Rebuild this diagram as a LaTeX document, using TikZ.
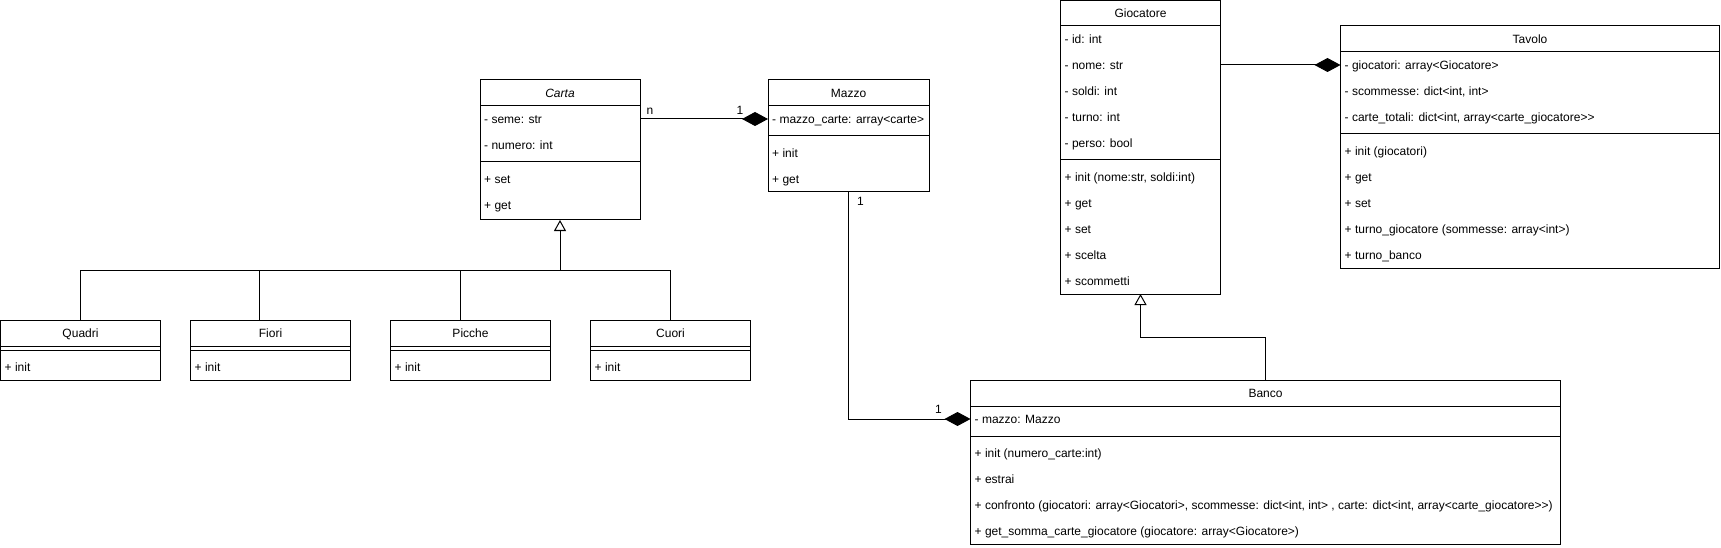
\documentclass[tikz,border=0pt]{standalone}
\usepackage{fontspec}
\setmainfont{Liberation Sans}
\usetikzlibrary{arrows.meta,calc}
\begin{document}
\begin{tikzpicture}[x=1pt,y=-1pt]
\tikzset{
 cls/.style={draw=black, line width=1pt, fill=white, anchor=north west, inner sep=0pt, outer sep=0pt},
 ttl/.style={font=\fontsize{12}{14}\selectfont, inner sep=0pt, text height=9pt, text depth=0pt, anchor=center},
 row/.style={font=\fontsize{12}{14}\selectfont, inner sep=0pt, text height=9pt, text depth=0pt, anchor=west},
 lbl/.style={font=\fontsize{12}{14}\selectfont, inner sep=0pt, text height=9pt, text depth=0pt},
 conn/.style={line width=1pt},
 comp/.style={conn, -{Diamond[length=26pt,width=14pt,fill=black]}},
 gen/.style={conn, -{Triangle[open,fill=white,length=11pt,width=12pt]}},
}
\useasboundingbox (0,0) rectangle (1721,548);

% ---------- Carta ----------
\node[cls, minimum width=160pt, minimum height=140pt] (carta) at (480,80) {};
\draw[conn] (480,106) -- (640,106);
\draw[conn] (480,162) -- (640,162);
\node[ttl] (cartaT) at (560,93) {\itshape Carta};
\node[row] (cartaA1) at (484,119) {- seme: str};
\node[row] (cartaA2) at (484,145) {- numero: int};
\node[row] (cartaM1) at (484,179) {+ set};
\node[row] (cartaM2) at (484,205) {+ get};

% ---------- Mazzo ----------
\node[cls, minimum width=161pt, minimum height=112pt] (mazzo) at (768,80) {};
\draw[conn] (768,106) -- (929,106);
\draw[conn] (768,136) -- (929,136);
\node[ttl] (mazzoT) at (848.5,93) {Mazzo};
\node[row] (mazzoA1) at (772,119) {- mazzo\_carte: array<carte>};
\node[row] (mazzoM1) at (772,153) {+ init};
\node[row] (mazzoM2) at (772,179) {+ get};

% ---------- Giocatore ----------
\node[cls, minimum width=160pt, minimum height=293.5pt] (gioc) at (1060.5,0.5) {};
\draw[conn] (1060.5,26) -- (1220.5,26);
\draw[conn] (1060.5,160) -- (1220.5,160);
\node[ttl] (giocT) at (1140.5,13) {Giocatore};
\node[row] (giocA1) at (1064.5,39) {- id: int};
\node[row] (giocA2) at (1064.5,65) {- nome: str};
\node[row] (giocA3) at (1064.5,91) {- soldi: int};
\node[row] (giocA4) at (1064.5,117) {- turno: int};
\node[row] (giocA5) at (1064.5,143) {- perso: bool};
\node[row] (giocM1) at (1064.5,177) {+ init (nome:str, soldi:int)};
\node[row] (giocM2) at (1064.5,203) {+ get};
\node[row] (giocM3) at (1064.5,229) {+ set};
\node[row] (giocM4) at (1064.5,255) {+ scelta};
\node[row] (giocM5) at (1064.5,281) {+ scommetti};

% ---------- Tavolo ----------
\node[cls, minimum width=379pt, minimum height=242.5pt] (tav) at (1340.5,26) {};
\draw[conn] (1340.5,52) -- (1719.5,52);
\draw[conn] (1340.5,134) -- (1719.5,134);
\node[ttl] (tavT) at (1530,39) {Tavolo};
\node[row] (tavA1) at (1344.5,65) {- giocatori: array<Giocatore>};
\node[row] (tavA2) at (1344.5,91) {- scommesse: dict<int, int>};
\node[row] (tavA3) at (1344.5,117) {- carte\_totali: dict<int, array<carte\_giocatore>{}>};
\node[row] (tavM1) at (1344.5,151) {+ init (giocatori)};
\node[row] (tavM2) at (1344.5,177) {+ get};
\node[row] (tavM3) at (1344.5,203) {+ set};
\node[row] (tavM4) at (1344.5,229) {+ turno\_giocatore (sommesse: array<int>)};
\node[row] (tavM5) at (1344.5,255) {+ turno\_banco};

% ---------- Banco ----------
\node[cls, minimum width=590pt, minimum height=164pt] (banco) at (970.5,380) {};
\draw[conn] (970.5,406) -- (1560.5,406);
\draw[conn] (970.5,436) -- (1560.5,436);
\node[ttl] (bancoT) at (1265.5,393) {Banco};
\node[row] (bancoA1) at (974.5,419) {- mazzo: Mazzo};
\node[row] (bancoM1) at (974.5,453) {+ init (numero\_carte:int)};
\node[row] (bancoM2) at (974.5,479) {+ estrai};
\node[row] (bancoM3) at (974.5,505) {+ confronto (giocatori: array<Giocatori>, scommesse: dict<int, int> , carte: dict<int, array<carte\_giocatore>{}>)};
\node[row] (bancoM4) at (974.5,531) {+ get\_somma\_carte\_giocatore (giocatore: array<Giocatore>)};

% ---------- Subclasses ----------
\node[cls, minimum width=160pt, minimum height=60pt] (quadri) at (0.5,320) {};
\draw[conn] (0.5,346) -- (160.5,346);
\draw[conn] (0.5,350) -- (160.5,350);
\node[ttl] (quadriT) at (80.5,333) {Quadri};
\node[row] (quadriM1) at (4.5,367) {+ init};

\node[cls, minimum width=160pt, minimum height=60pt] (fiori) at (190.5,320) {};
\draw[conn] (190.5,346) -- (350.5,346);
\draw[conn] (190.5,350) -- (350.5,350);
\node[ttl] (fioriT) at (270.5,333) {Fiori};
\node[row] (fioriM1) at (194.5,367) {+ init};

\node[cls, minimum width=160pt, minimum height=60pt] (picche) at (390.5,320) {};
\draw[conn] (390.5,346) -- (550.5,346);
\draw[conn] (390.5,350) -- (550.5,350);
\node[ttl] (piccheT) at (470.5,333) {Picche};
\node[row] (piccheM1) at (394.5,367) {+ init};

\node[cls, minimum width=160pt, minimum height=60pt] (cuori) at (590.5,320) {};
\draw[conn] (590.5,346) -- (750.5,346);
\draw[conn] (590.5,350) -- (750.5,350);
\node[ttl] (cuoriT) at (670.5,333) {Cuori};
\node[row] (cuoriM1) at (594.5,367) {+ init};

% ---------- Connectors ----------
\coordinate (bar) at (560,270);
\draw[conn] (quadri.north) |- (bar);
\draw[conn] ($(fiori.north)+(-11,0)$) |- (bar);
\draw[conn] ($(picche.north)+(-10,0)$) |- (bar);
\draw[conn] (cuori.north) |- (bar);
\draw[gen] (bar) -- (carta.south);

\draw[gen] (banco.north) -- ++(0,-43) -| (gioc.south);

\draw[comp] (cartaA1 -| carta.east) -- (mazzoA1 -| mazzo.west);
\draw[comp] (giocA2 -| gioc.east) -- (tavA1 -| tav.west);
\draw[comp] (mazzo.south) |- (bancoA1 -| banco.west);

\node[lbl] (ln) at (650,110) {n};
\node[lbl] (l1a) at (740,110) {1};
\node[lbl] (l1b) at (860.5,201.5) {1};
\node[lbl] (l1c) at (938.5,409) {1};
\end{tikzpicture}
\end{document}
